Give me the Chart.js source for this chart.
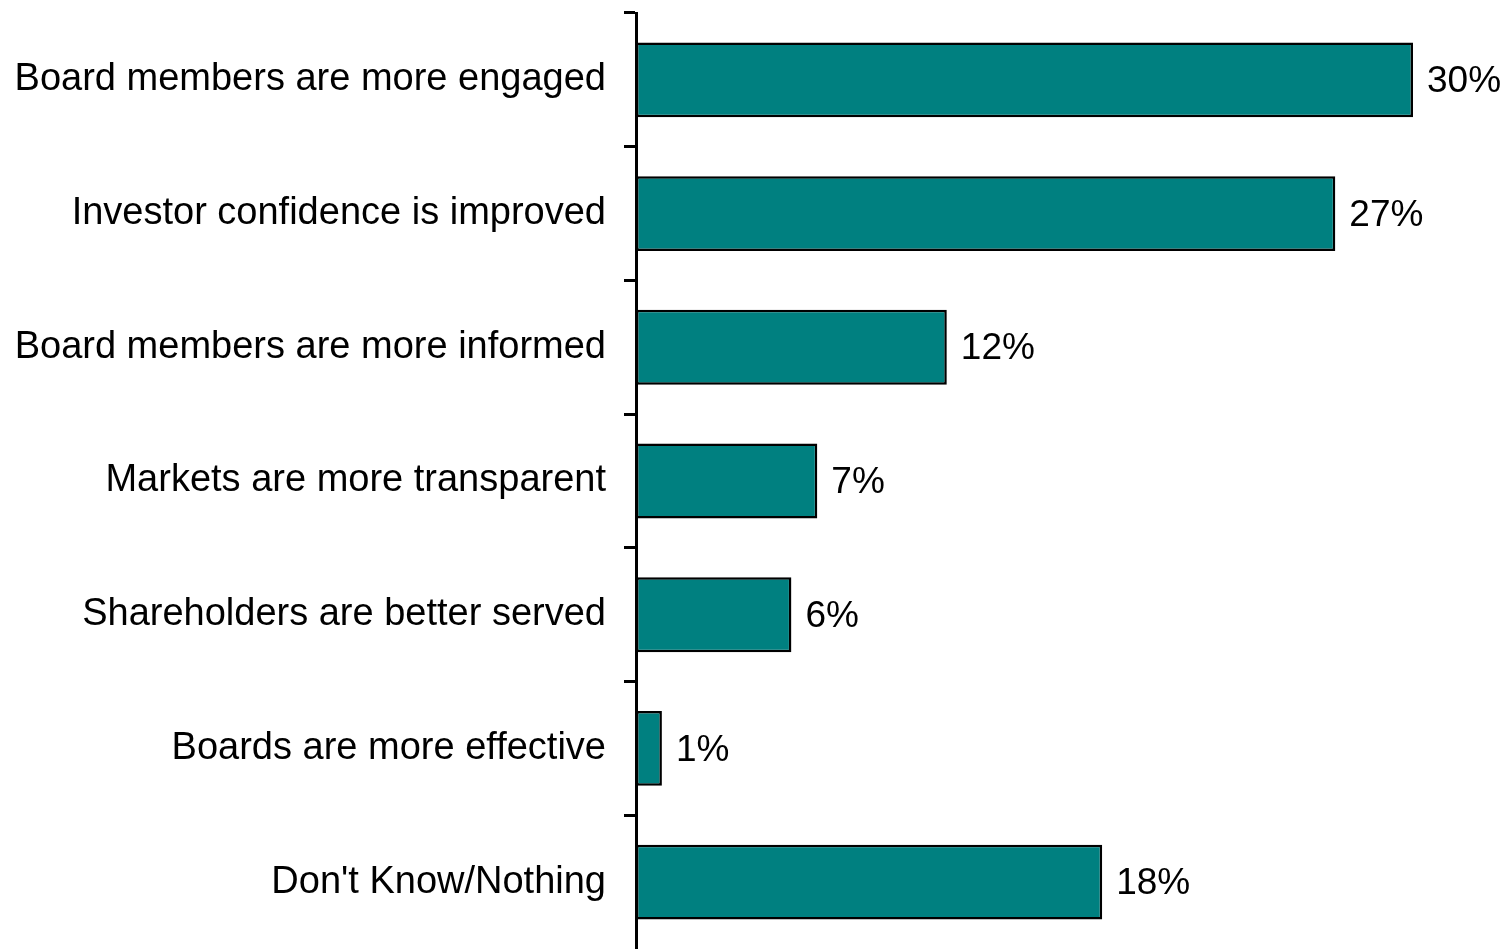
<!DOCTYPE html>
<html>
<head>
<meta charset="utf-8">
<script src="https://cdn.jsdelivr.net/npm/chart.js@4"></script>
<style>
  html, body { margin: 0; padding: 0; background: #fff; }
  #wrap { width: 1504px; height: 949px; }
</style>
</head>
<body>
<div id="wrap"><canvas id="chart" width="1504" height="949"></canvas></div>
<script>
const categories = [
  'Board members are more engaged',
  'Investor confidence is improved',
  'Board members are more informed',
  'Markets are more transparent',
  'Shareholders are better served',
  'Boards are more effective',
  "Don't Know/Nothing",
];
const values = [30, 27, 12, 7, 6, 1, 18];
const valueLabels = ['30%', '27%', '12%', '7%', '6%', '1%', '18%'];

const FONT = '"Liberation Sans", Arial, sans-serif';

// percentage text to the right of each bar
const barLabels = {
  id: 'barLabels',
  afterDatasetsDraw(chart) {
    const { ctx } = chart;
    const meta = chart.getDatasetMeta(0);
    ctx.save();
    ctx.font = `37px ${FONT}`;
    ctx.fillStyle = '#000';
    ctx.textAlign = 'left';
    ctx.textBaseline = 'middle';
    meta.data.forEach((bar, i) => {
      ctx.fillText(valueLabels[i], bar.x + 14, bar.y + 2);
    });
    ctx.restore();
  },
};

new Chart(document.getElementById('chart'), {
  type: 'bar',
  data: {
    labels: categories,
    datasets: [{
      data: values,
      backgroundColor: '#008080',
      borderColor: '#000',
      borderWidth: 2.5,
      borderSkipped: false,
      barPercentage: 0.56,
      categoryPercentage: 1,
    }],
  },
  options: {
    indexAxis: 'y',
    responsive: false,
    animation: false,
    layout: { padding: { top: 13, right: 91, bottom: 0, left: 0 } },
    plugins: { legend: { display: false }, tooltip: { enabled: false } },
    scales: {
      x: { display: false, min: 0, max: 30 },
      y: {
        afterFit: (scale) => {
          scale.width = 636;
          scale.paddingTop = 0;
          scale.paddingBottom = 0;
        },
        border: { display: true, color: '#000', width: 3 },
        grid: {
          offset: true,
          drawOnChartArea: false,
          drawTicks: true,
          tickLength: 12,
          // the axis runs off the bottom edge, so no closing tick there
          color: (c) => (c.tick ? '#000' : 'rgba(0,0,0,0)'),
          lineWidth: 3,
        },
        ticks: {
          color: '#000',
          padding: 18,
          font: { family: FONT, size: 38 },
        },
      },
    },
  },
  plugins: [barLabels],
});
</script>
</body>
</html>
